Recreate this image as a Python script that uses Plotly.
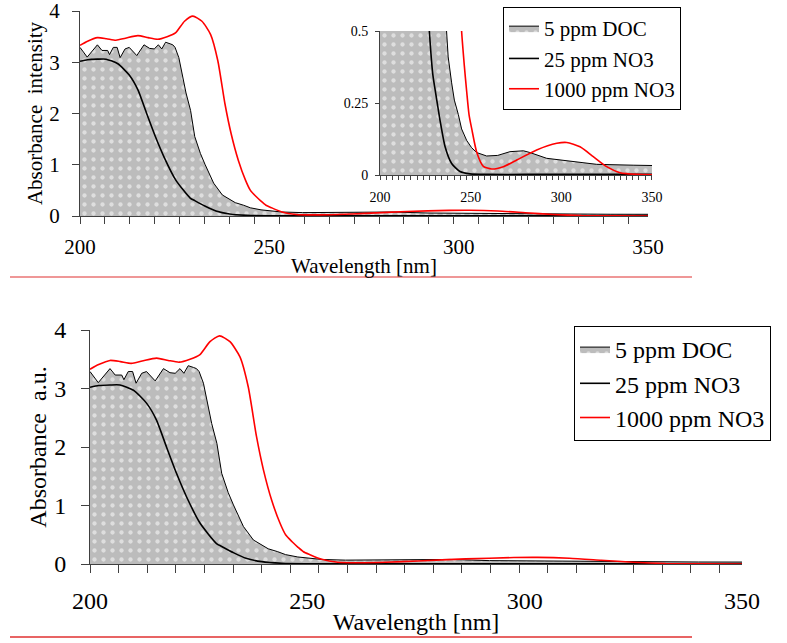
import plotly.graph_objects as go

# ---------------- data ----------------
wl_doc = [200, 201.9, 204.6, 205.8, 207.3, 207.8, 208.8, 209.8, 210.6, 211.9,
          213.0, 215.0, 216.9, 218.4, 219.6, 220.7, 221.6, 222.6, 223.8, 224.5,
          225.1, 226.1, 228.0, 229.2, 230.3, 231.8, 233.0, 235.3, 237.6, 239.5,
          241.0, 243.2, 245.0, 247.8, 250.5, 253.3, 258.8, 264.9, 271.7, 279.1,
          282.7, 291.9, 301.1, 310.3, 319.5, 328.7, 340, 350]
abs_doc = [3.29, 3.10, 3.34, 3.23, 3.23, 3.15, 3.29, 3.29, 3.09, 3.26,
           3.29, 3.13, 3.34, 3.27, 3.26, 3.34, 3.26, 3.39, 3.36, 3.34,
           3.29, 3.09, 2.40, 2.06, 1.55, 1.22, 1.01, 0.64, 0.41, 0.32,
           0.26, 0.21, 0.16, 0.12, 0.095, 0.078, 0.066, 0.068, 0.081, 0.084,
           0.078, 0.058, 0.052, 0.044, 0.037, 0.035, 0.034, 0.033]

wl_no3_25 = [200, 202, 204.6, 206.9, 210, 213, 215.3, 217.6, 219.9, 222.2,
             225.3, 229.1, 230.3, 233.1, 235.9, 239.5, 244.1, 249.6, 260, 280,
             300, 350]
abs_no3_25 = [3.02, 3.05, 3.06, 3.06, 2.97, 2.75, 2.46, 2.00, 1.55, 1.15,
              0.70, 0.35, 0.30, 0.19, 0.098, 0.04, 0.012, 0.004, 0.002, 0.002,
              0.002, 0.002]

wl_no3_1000 = [200, 202, 204.6, 207, 209.5, 212, 215.3, 218, 220.5, 223,
               225.3, 227.6, 229.8, 232.2, 234.5, 236.4, 238.3, 239.9, 241.8, 243.7,
               245.0, 246.5, 247.8, 249.1, 250.6, 253.3, 257, 261.6, 268, 275.4,
               286.4, 297.5, 303, 310.3, 317.6, 325, 332.4, 341.6, 350]
abs_no3_1000 = [3.33, 3.41, 3.48, 3.46, 3.43, 3.47, 3.52, 3.48, 3.45, 3.50,
                3.58, 3.80, 3.90, 3.80, 3.54, 3.03, 2.18, 1.61, 1.09, 0.70,
                0.50, 0.38, 0.29, 0.21, 0.16, 0.08, 0.03, 0.021, 0.029, 0.052,
                0.087, 0.110, 0.113, 0.098, 0.064, 0.029, 0.008, 0.002, 0.001]

series_names = ["5 ppm DOC", "25 ppm NO3", "1000 ppm NO3"]
x_ticks = [200, 250, 300, 350]
y_ticks_main = [0, 1, 2, 3, 4]
y_ticks_inset = [0, 0.25, 0.5]
y_ticktext_inset = ["0", "0.25", "0.5"]

# ---------------- styling ----------------
W, H = 787, 643
FONT = "Liberation Serif"
AX = "#404040"
pattern = dict(shape=".", bgcolor="#bcbcbc", fgcolor="white", size=9, solidity=0.18)


def px_x(p):
    return p / W


def px_y(p):
    return 1 - p / H


fig = go.Figure()

panels = [
    ("x", "y", "legend", True),
    ("x2", "y2", None, False),
    ("x3", "y3", "legend2", True),
]

for xa, ya, leg, show in panels:
    kw = dict(xaxis=xa, yaxis=ya, showlegend=show)
    if leg:
        kw["legend"] = leg
    fig.add_trace(go.Scatter(x=wl_doc, y=abs_doc, name=series_names[0], mode="lines",
                             line=dict(color="black", width=1), fill="tozeroy",
                             fillpattern=pattern, **kw))
    fig.add_trace(go.Scatter(x=wl_no3_25, y=abs_no3_25, name=series_names[1], mode="lines",
                             line=dict(color="black", width=1.6, shape="spline", smoothing=0.6),
                             **kw))
    fig.add_trace(go.Scatter(x=wl_no3_1000, y=abs_no3_1000, name=series_names[2], mode="lines",
                             line=dict(color="#ff0000", width=1.6, shape="spline", smoothing=0.6),
                             **kw))


def xaxis_cfg(dom, anchor, size, ticklen, standoff, title_standoff, minor_dtick, title=True):
    d = dict(domain=dom, anchor=anchor, range=[200, 350], tickmode="array", tickvals=x_ticks,
             ticks="outside", ticklen=ticklen, tickcolor="rgba(0,0,0,0)",
             showline=True, linecolor=AX, linewidth=1, showgrid=False, zeroline=False,
             tickfont=dict(family=FONT, size=size, color="black"),
             ticklabelstandoff=standoff, ticklabeloverflow="allow",
             automargin=False, fixedrange=True,
             minor=dict(tickmode="linear", tick0=200.01, dtick=minor_dtick, ticks="outside",
                        ticklen=ticklen, tickcolor=AX, tickwidth=1, showgrid=False))
    if title:
        d["title"] = dict(text="Wavelength [nm]", font=dict(family=FONT, size=size, color="black"),
                          standoff=title_standoff)
    return d


def yaxis_cfg(dom, anchor, rng, tv, tt, size, ticklen, standoff, title, title_standoff):
    d = dict(domain=dom, anchor=anchor, range=rng, tickmode="array", tickvals=tv, ticktext=tt,
             ticks="outside", ticklen=ticklen, tickcolor=AX, showline=True, linecolor=AX,
             linewidth=1, showgrid=False, zeroline=False,
             tickfont=dict(family=FONT, size=size, color="black"),
             ticklabelstandoff=standoff, ticklabeloverflow="allow",
             automargin=False, fixedrange=True)
    if title:
        d["title"] = dict(text=title, font=dict(family=FONT, size=size, color="black"),
                          standoff=title_standoff)
    return d


layout = dict(
    width=W, height=H, autosize=False,
    margin=dict(l=0, r=0, t=0, b=0),
    paper_bgcolor="white", plot_bgcolor="white",
    font=dict(family=FONT, color="black"),
    xaxis=xaxis_cfg([px_x(80), px_x(648)], "y", 21, 7, 5, 0, 6.58),
    yaxis=yaxis_cfg([px_y(216), px_y(11)], "x", [0, 4], y_ticks_main,
                    [str(v) for v in y_ticks_main], 21, 7, 8, "Absorbance  intensity", 0),
    xaxis2=xaxis_cfg([px_x(380), px_x(652)], "y2", 14, 4, 5, 0, 3.4, title=False),
    yaxis2=yaxis_cfg([px_y(175), px_y(31)], "x2", [0, 0.5], y_ticks_inset, y_ticktext_inset,
                     14, 4, 4, None, 0),
    xaxis3=xaxis_cfg([px_x(90), px_x(742)], "y3", 24, 8, 7, 0, 6.58),
    yaxis3=yaxis_cfg([px_y(564), px_y(330)], "x3", [0, 4], y_ticks_main,
                     [str(v) for v in y_ticks_main], 24, 8, 10, "Absorbance  a.u.", 0),
    legend=dict(x=px_x(503), y=px_y(7), xanchor="left", yanchor="top",
                bgcolor="white", bordercolor="black", borderwidth=1,
                font=dict(family=FONT, size=21, color="black"), itemwidth=30,
                tracegroupgap=0),
    legend2=dict(x=px_x(574), y=px_y(326), xanchor="left", yanchor="top",
                 bgcolor="white", bordercolor="black", borderwidth=1,
                 font=dict(family=FONT, size=24, color="black"), itemwidth=30,
                 tracegroupgap=0),
    shapes=[
        dict(type="line", xref="paper", yref="paper", x0=px_x(10), x1=px_x(692),
             y0=px_y(277), y1=px_y(277), line=dict(color="#e03030", width=1.2)),
        dict(type="line", xref="paper", yref="paper", x0=px_x(10), x1=px_x(692),
             y0=px_y(637), y1=px_y(637), line=dict(color="#e03030", width=1.6)),
    ],
)
fig.update_layout(**layout)
fig.write_html("out.html")
